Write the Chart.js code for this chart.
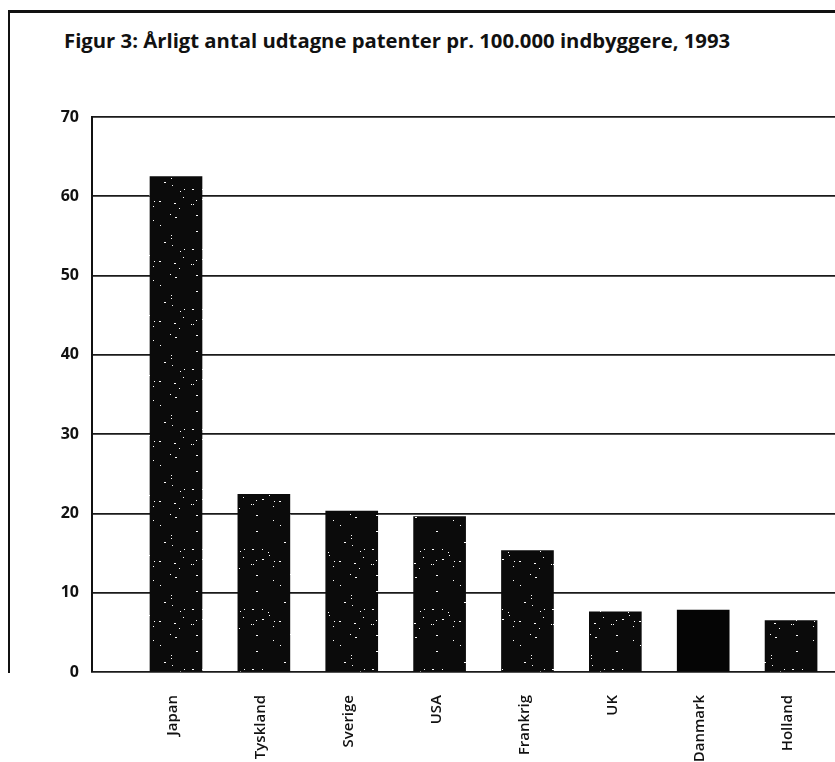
<!DOCTYPE html>
<html>
<head>
<meta charset="utf-8">
<script src="https://cdn.jsdelivr.net/npm/chart.js@4.4.1/dist/chart.umd.min.js"></script>
<style>
    html, body { margin: 0; padding: 0; background: #fff; }
    .page { position: relative; width: 835px; height: 762px; overflow: hidden; }
    .frame {
        position: absolute; left: 8px; top: 10px; width: 840px; height: 660px;
        border-top: 3px solid #111; border-left: 2px solid #111;
    }
    .title {
        position: absolute; left: 64px; top: 28px; margin: 0;
        font-family: "Open Sans", sans-serif; font-weight: bold; font-size: 20.3px;
        line-height: 24px; color: #111; white-space: nowrap;
    }
    canvas { position: absolute; left: 0; top: 0; }
</style>
</head>
<body>
<div class="page">
    <div class="frame"></div>
    <h1 class="title">Figur 3: Årligt antal udtagne patenter pr. 100.000 indbyggere, 1993</h1>
    <canvas id="chart" width="835" height="762"></canvas>
</div>
<script>
// data
const countries = ['Japan', 'Tyskland', 'Sverige', 'USA', 'Frankrig', 'UK', 'Danmark', 'Holland'];
const patents = [62.5, 22.4, 20.3, 19.6, 15.3, 7.6, 7.8, 6.5];
const yTicks = [0, 10, 20, 30, 40, 50, 60, 70];

// speckled black fill like the printed bars
function speckle() {
    const c = document.createElement('canvas');
    c.width = 60; c.height = 60;
    const ctx = c.getContext('2d');
    ctx.fillStyle = '#0b0b0b';
    ctx.fillRect(0, 0, 60, 60);
    ctx.fillStyle = '#fff';
    let s = 7;
    for (let k = 0; k < 26; k++) {
        s = (s * 73 + 41) % 3599;
        const px = s % 60;
        const py = Math.floor(s / 60);
        ctx.fillRect(px, py, 1 + (k % 3 === 0 ? 1 : 0), 1);
    }
    return ctx.createPattern(c, 'repeat');
}

const fill = speckle();
const colors = countries.map(c => c === 'Danmark' ? '#050505' : fill);

new Chart(document.getElementById('chart'), {
    type: 'bar',
    data: {
        datasets: [{
            data: patents.map((v, i) => ({ x: i + 1, y: v })),
            backgroundColor: colors,
            borderWidth: 0,
            barThickness: 52
        }]
    },
    options: {
        responsive: false,
        animation: false,
        layout: { padding: { top: 117, left: 0, right: 0, bottom: 0 } },
        plugins: {
            legend: { display: false },
            tooltip: { enabled: false }
        },
        scales: {
            x: {
                type: 'linear',
                offset: false,
                min: 0.044,
                max: 8.5,
                grid: { display: false },
                border: { display: false },
                afterFit: (scale) => { scale.height = 90; },
                afterBuildTicks: (scale) => {
                    scale.ticks = countries.map((c, i) => ({ value: i + 1 }));
                },
                ticks: {
                    autoSkip: false,
                    minRotation: 90,
                    maxRotation: 90,
                    padding: 15,
                    labelOffset: -3,
                    color: '#111',
                    font: { family: 'Open Sans', size: 15, weight: '600' },
                    callback: (v) => countries[v - 1]
                }
            },
            y: {
                min: 0,
                max: 70,
                afterFit: (scale) => { scale.width = 92; },
                afterBuildTicks: (scale) => {
                    scale.ticks = yTicks.map(v => ({ value: v }));
                },
                grid: { color: '#1a1a1a', lineWidth: 1.7, drawTicks: false },
                border: { display: true, color: '#111', width: 2 },
                ticks: {
                    padding: 13,
                    color: '#111',
                    font: { family: 'Open Sans', size: 16, weight: 'bold' }
                }
            }
        }
    }
});
</script>
</body>
</html>
